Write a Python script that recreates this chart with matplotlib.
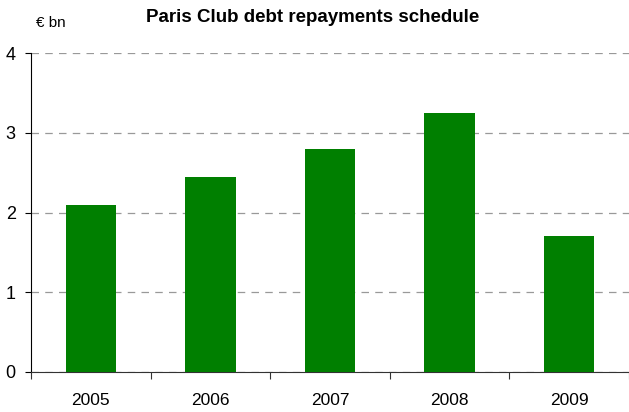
import numpy as np
import matplotlib.pyplot as plt

years = ['2005', '2006', '2007', '2008', '2009']
repayments = [2.1, 2.45, 2.8, 3.25, 1.7]

plt.rcParams['font.family'] = ['Liberation Sans', 'DejaVu Sans']

fig = plt.figure(figsize=(6.29, 4.12), dpi=100)
ax = fig.add_axes([31/629, 1 - 372/412, 598/629, (372 - 53)/412])

x = np.arange(len(years))
ax.bar(x, repayments, width=0.42, color='#007f00', zorder=3)

ax.set_xlim(-0.5, len(years) - 0.5)
ax.set_ylim(0, 4)
ax.set_yticks([0, 1, 2, 3, 4])
ax.yaxis.grid(True, linestyle=(0, (6, 5)), color='#999999', linewidth=0.9, zorder=0)

# category labels in the middle, tick marks between categories
ax.set_xticks(np.arange(-0.5, len(years)), labels=[''] * (len(years) + 1))
ax.set_xticks(x, labels=years, minor=True)
ax.tick_params(axis='x', which='major', direction='out', length=5, color='#333333')
ax.tick_params(axis='x', which='minor', length=0, pad=15, labelsize=12.5)
ax.tick_params(axis='y', direction='out', length=4.5, pad=6.5, labelsize=13)

for s in ['top', 'right']:
    ax.spines[s].set_visible(False)
ax.spines['left'].set_color('black')
ax.spines['bottom'].set_color('#333333')

fig.text(313/629, 1 - 18/412, 'Paris Club debt repayments schedule',
         ha='center', va='center', fontsize=13.5, fontweight='bold')
fig.text(36/629, 1 - 23/412, '€ bn', ha='left', va='center', fontsize=11)

fig.savefig('out.png', dpi=100)
